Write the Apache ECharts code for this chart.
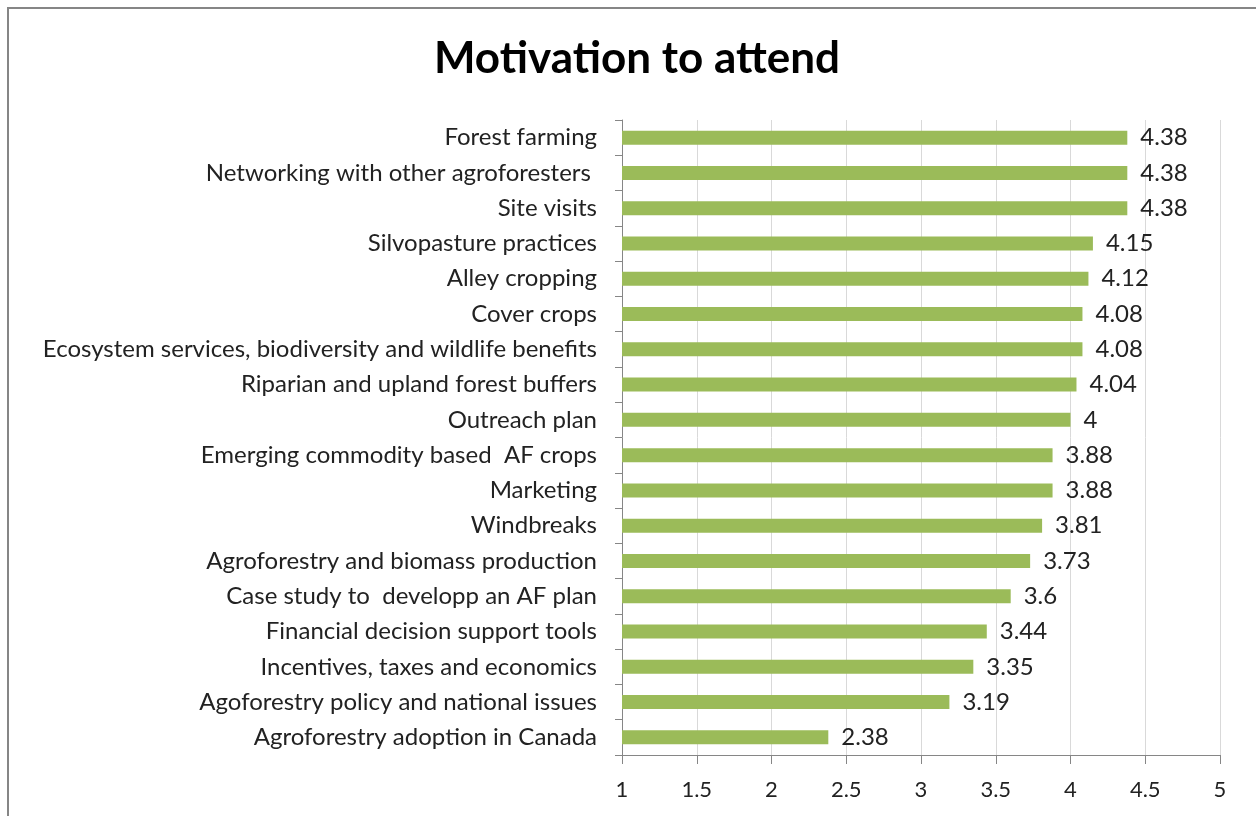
<!DOCTYPE html>
<html>
<head>
<meta charset="utf-8">
<script src="https://cdn.jsdelivr.net/npm/echarts@6/dist/echarts.min.js"></script>
<style>
  html, body { margin: 0; padding: 0; background: #fff; }
  #chart { width: 1256px; height: 816px; }
</style>
</head>
<body>
<div id="chart"></div>
<script>
  const categories = [
    'Forest farming',
    'Networking with other agroforesters ',
    'Site visits',
    'Silvopasture practices',
    'Alley cropping',
    'Cover crops',
    'Ecosystem services, biodiversity and wildlife benefits',
    'Riparian and upland forest buffers',
    'Outreach plan',
    'Emerging commodity based  AF crops',
    'Marketing',
    'Windbreaks',
    'Agroforestry and biomass production',
    'Case study to  developp an AF plan',
    'Financial decision support tools',
    'Incentives, taxes and economics',
    'Agoforestry policy and national issues',
    'Agroforestry adoption in Canada',
  ]
  const scores = [4.38, 4.38, 4.38, 4.15, 4.12, 4.08, 4.08, 4.04, 4, 3.88, 3.88, 3.81, 3.73, 3.6, 3.44, 3.35, 3.19, 2.38]
  const xTicks = [1, 1.5, 2, 2.5, 3, 3.5, 4, 4.5, 5]

  const FONT = 'Lato'
  const chart = echarts.init(document.getElementById('chart'))

  const option = {
    animation: false,
    backgroundColor: '#fff',
    graphic: [
      {
        type: 'rect',
        shape: { x: 8, y: 8, width: 1400, height: 1000 },
        style: { fill: 'none', stroke: '#868686', lineWidth: 2 },
        z: -1,
      },
    ],
    title: {
      text: 'Motivation to attend',
      left: 632,
      textAlign: 'center',
      top: 32,
      textStyle: {
        fontFamily: FONT,
        fontWeight: 'bold',
        fontSize: 44,
        color: '#000',
      },
    },
    grid: {
      left: 622,
      right: 36,
      top: 120,
      bottom: 61,
      containLabel: false,
    },
    xAxis: {
      type: 'value',
      min: 1,
      max: 5,
      interval: 0.5,
      axisLine: { show: true, lineStyle: { color: '#868686', width: 1 } },
      axisTick: { show: true, length: 9, lineStyle: { color: '#868686' } },
      axisLabel: {
        margin: 24,
        fontFamily: FONT,
        fontSize: 22,
        color: '#222',
        formatter: (v) => (xTicks.includes(v) ? String(v) : ''),
      },
      splitLine: { show: true, lineStyle: { color: '#d9d9d9', width: 1 } },
    },
    yAxis: {
      type: 'category',
      inverse: true,
      data: categories,
      axisLine: { show: true, lineStyle: { color: '#868686', width: 1 } },
      axisTick: { show: true, length: 7, lineStyle: { color: '#868686' } },
      axisLabel: {
        margin: 25,
        fontFamily: FONT,
        fontSize: 24,
        color: '#222',
      },
    },
    series: [
      {
        type: 'bar',
        data: scores,
        barWidth: 14,
        itemStyle: { color: '#9BBB59' },
        label: {
          show: true,
          position: 'right',
          distance: 13,
          fontFamily: FONT,
          fontSize: 24,
          color: '#222',
        },
      },
    ],
  }

  chart.setOption(option)
</script>
</body>
</html>
